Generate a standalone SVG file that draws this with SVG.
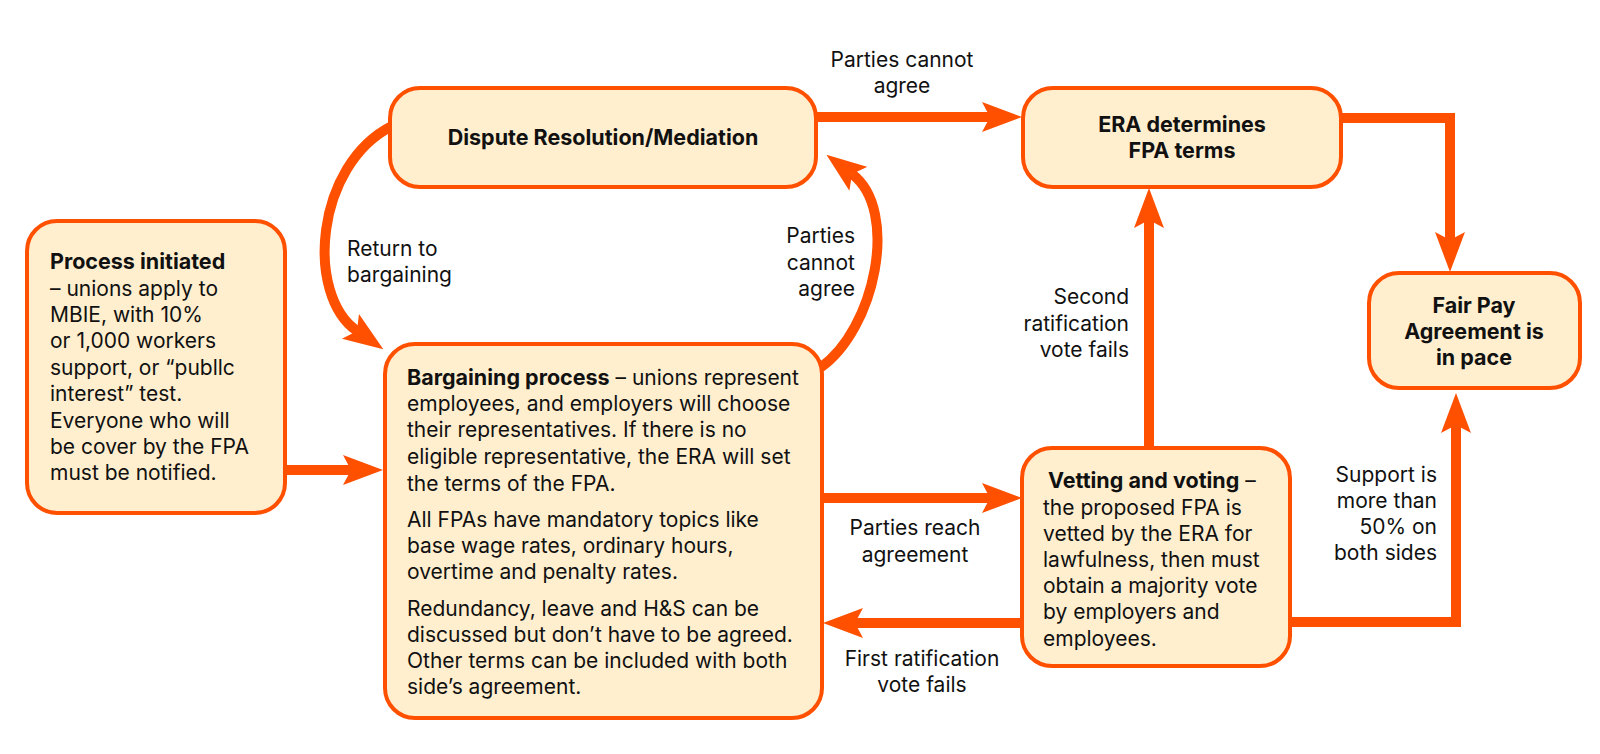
<svg xmlns="http://www.w3.org/2000/svg" width="1600" height="754" viewBox="0 0 1600 754">
<defs>
<style>
.box{fill:#FFEFCF;stroke:#FF5000;stroke-width:4}
.ln{fill:none;stroke:#FF5000;stroke-width:10}
.t{font-family:Inter,"Noto Sans",sans-serif;font-size:21px;fill:#111}
.b{font-weight:700;font-size:21.5px}
.c{text-anchor:middle}
.r{text-anchor:end}
</style>
<marker id="ah" markerUnits="userSpaceOnUse" viewBox="0 0 40 30" markerWidth="40" markerHeight="30" refX="8" refY="15" orient="auto">
<path d="M0,0 L40,15 L0,30 L8,15 Z" fill="#FF5000"/>
</marker>
</defs>
<rect width="1600" height="754" fill="#fff"/>
<g id="connectors">
<path class="ln" d="M285,470 L351,470" marker-end="url(#ah)"/>
<path class="ln" d="M392,126 C315,165 305,295 357,331" marker-end="url(#ah)"/>
<path class="ln" d="M820,368 C875,330 900,210 852,174" marker-end="url(#ah)"/>
<path class="ln" d="M816,117 L990,117" marker-end="url(#ah)"/>
<path class="ln" d="M822,498 L990,498" marker-end="url(#ah)"/>
<path class="ln" d="M1022,623 L855,623" marker-end="url(#ah)"/>
<path class="ln" d="M1149,448 L1149,220" marker-end="url(#ah)"/>
<path class="ln" d="M1341,118 L1450,118 L1450,240" marker-end="url(#ah)"/>
<path class="ln" d="M1290,622 L1456,622 L1456,425" marker-end="url(#ah)"/>
</g>
<g id="labels">
<text class="t c" x="902" y="67">Parties cannot</text>
<text class="t c" x="902" y="93">agree</text>
<text class="t" x="347" y="256">Return to</text>
<text class="t" x="347" y="282">bargaining</text>
<text class="t r" x="855" y="243">Parties</text>
<text class="t r" x="855" y="270">cannot</text>
<text class="t r" x="855" y="296">agree</text>
<text class="t r" x="1129" y="304">Second</text>
<text class="t r" x="1129" y="331">ratification</text>
<text class="t r" x="1129" y="357">vote fails</text>
<text class="t c" x="915" y="535">Parties reach</text>
<text class="t c" x="915" y="562">agreement</text>
<text class="t c" x="922" y="666">First ratification</text>
<text class="t c" x="922" y="692">vote fails</text>
<text class="t r" x="1437" y="482">Support is</text>
<text class="t r" x="1437" y="508">more than</text>
<text class="t r" x="1437" y="534">50% on</text>
<text class="t r" x="1437" y="560">both sides</text>
</g>
<g id="process">
<rect class="box" x="27" y="221" width="258" height="292" rx="30"/>
<text class="t" x="50" y="269"><tspan class="b">Process initiated</tspan></text>
<text class="t" x="50" y="296">– unions apply to</text>
<text class="t" x="50" y="322">MBIE, with 10%</text>
<text class="t" x="50" y="348">or 1,000 workers</text>
<text class="t" x="50" y="375">support, or “publlc</text>
<text class="t" x="50" y="401">interest” test.</text>
<text class="t" x="50" y="428">Everyone who will</text>
<text class="t" x="50" y="454">be cover by the FPA</text>
<text class="t" x="50" y="480">must be notified.</text>
</g>
<g id="dispute">
<rect class="box" x="390" y="88" width="426" height="99" rx="30"/>
<text class="t b c" x="603" y="145">Dispute Resolution/Mediation</text>
</g>
<g id="bargaining">
<rect class="box" x="385" y="344" width="437" height="374" rx="30"/>
<text class="t" x="407" y="385"><tspan class="b">Bargaining process</tspan> – unions represent</text>
<text class="t" x="407" y="411">employees, and employers will choose</text>
<text class="t" x="407" y="437">their representatives. If there is no</text>
<text class="t" x="407" y="464">eligible representative, the ERA will set</text>
<text class="t" x="407" y="491">the terms of the FPA.</text>
<text class="t" x="407" y="527">All FPAs have mandatory topics like</text>
<text class="t" x="407" y="553">base wage rates, ordinary hours,</text>
<text class="t" x="407" y="579">overtime and penalty rates.</text>
<text class="t" x="407" y="616">Redundancy, leave and H&amp;S can be</text>
<text class="t" x="407" y="642">discussed but don’t have to be agreed.</text>
<text class="t" x="407" y="668">Other terms can be included with both</text>
<text class="t" x="407" y="694">side’s agreement.</text>
</g>
<g id="era">
<rect class="box" x="1023" y="88" width="318" height="99" rx="30"/>
<text class="t b c" x="1182" y="132">ERA determines</text>
<text class="t b c" x="1182" y="158">FPA terms</text>
</g>
<g id="vetting">
<rect class="box" x="1022" y="448" width="268" height="218" rx="30"/>
<text class="t" x="1048" y="488"><tspan class="b">Vetting and voting</tspan> –</text>
<text class="t" x="1043" y="515">the proposed FPA is</text>
<text class="t" x="1043" y="541">vetted by the ERA for</text>
<text class="t" x="1043" y="567">lawfulness, then must</text>
<text class="t" x="1043" y="593">obtain a majority vote</text>
<text class="t" x="1043" y="619">by employers and</text>
<text class="t" x="1043" y="646">employees.</text>
</g>
<g id="fairpay">
<rect class="box" x="1369" y="273" width="211" height="115" rx="30"/>
<text class="t b c" x="1474" y="313">Fair Pay</text>
<text class="t b c" x="1474" y="339">Agreement is</text>
<text class="t b c" x="1474" y="365">in pace</text>
</g>
</svg>
